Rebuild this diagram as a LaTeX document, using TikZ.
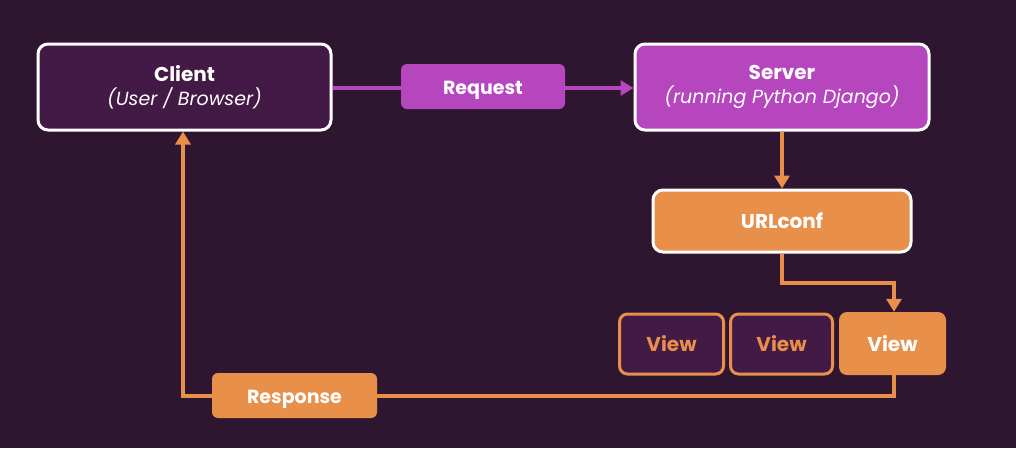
\documentclass[tikz,border=0pt]{standalone}
\usepackage{fontspec}
\setmainfont{Poppins}
\usetikzlibrary{arrows.meta}
\definecolor{bg}{HTML}{2E1530}
\definecolor{dark}{HTML}{431A45}
\definecolor{purp}{HTML}{B546BE}
\definecolor{orng}{HTML}{E8904A}
\tikzset{
  bigbox/.style={draw=white, line width=3pt, rounded corners=10pt, inner sep=0pt, align=center, text=white},
  tagbox/.style={rounded corners=6pt, inner sep=0pt, text=white, text height=16pt, text depth=0pt, font=\fontsize{19}{22}\selectfont\bfseries},
  viewbox/.style={rounded corners=8pt, inner sep=0pt, text height=15pt, text depth=0pt, font=\fontsize{20}{24}\selectfont\bfseries},
  purpline/.style={draw=purp, line width=3.6pt},
  orline/.style={draw=orng, line width=3.6pt},
  tip/.style={-{Triangle[length=13pt,width=15pt]}}
}
\begin{document}
\begin{tikzpicture}[x=1pt,y=-1pt]
\fill[bg] (0,0) rectangle (1016,448);
\useasboundingbox (0,0) rectangle (1016,448);
% nodes
\node[bigbox, fill=dark, minimum width=293pt, minimum height=86pt] (client) at (184.5,87)
  {{\fontsize{20}{24}\selectfont\bfseries Client}\\[5pt]{\fontsize{19}{22}\selectfont\itshape (User / Browser)}};
\node[bigbox, fill=purp, minimum width=294pt, minimum height=86pt] (server) at (782,87)
  {{\fontsize{20}{24}\selectfont\bfseries Server}\\[5pt]{\fontsize{19}{22}\selectfont\itshape (running Python Django)}};
\node[tagbox, fill=purp, minimum width=164pt, minimum height=45pt] (request) at (483,86.5) {Request};
\node[bigbox, fill=orng, minimum width=258pt, minimum height=62pt, text height=15pt, text depth=0pt, font=\fontsize{20}{24}\selectfont\bfseries] (urlconf) at (782,221) {URLconf};
\node[viewbox, draw=orng, line width=3pt, fill=dark, text=orng, minimum width=104pt, minimum height=60pt] (v1) at (671.5,344) {View};
\node[viewbox, draw=orng, line width=3pt, fill=dark, text=orng, minimum width=102pt, minimum height=60pt] (v2) at (781.5,344) {View};
\node[viewbox, fill=orng, text=white, minimum width=107pt, minimum height=63pt] (v3) at (892.5,343.5) {View};
\node[tagbox, fill=orng, minimum width=165pt, minimum height=45pt] (response) at (294.5,395.5) {Response};
% connectors
\draw[purpline] (client.east |- 0,88) -- (request.west |- 0,88);
\draw[purpline, tip] (request.east |- 0,88) -- (server.west |- 0,88);
\draw[orline, tip] (server.south) -- (urlconf.north);
\coordinate (c1) at (782,283);
\coordinate (c2) at (894,283);
\draw[orline, tip] (urlconf.south) -- (c1) -- (c2) -- (v3.north -| c2);
\coordinate (r1) at (894,396);
\coordinate (r2) at (183,396);
\draw[orline] (v3.south -| r1) -- (r1) -- (response.east |- r1);
\draw[orline, tip] (response.west |- r2) -- (r2) -- (client.south -| r2);
\end{tikzpicture}
\end{document}
